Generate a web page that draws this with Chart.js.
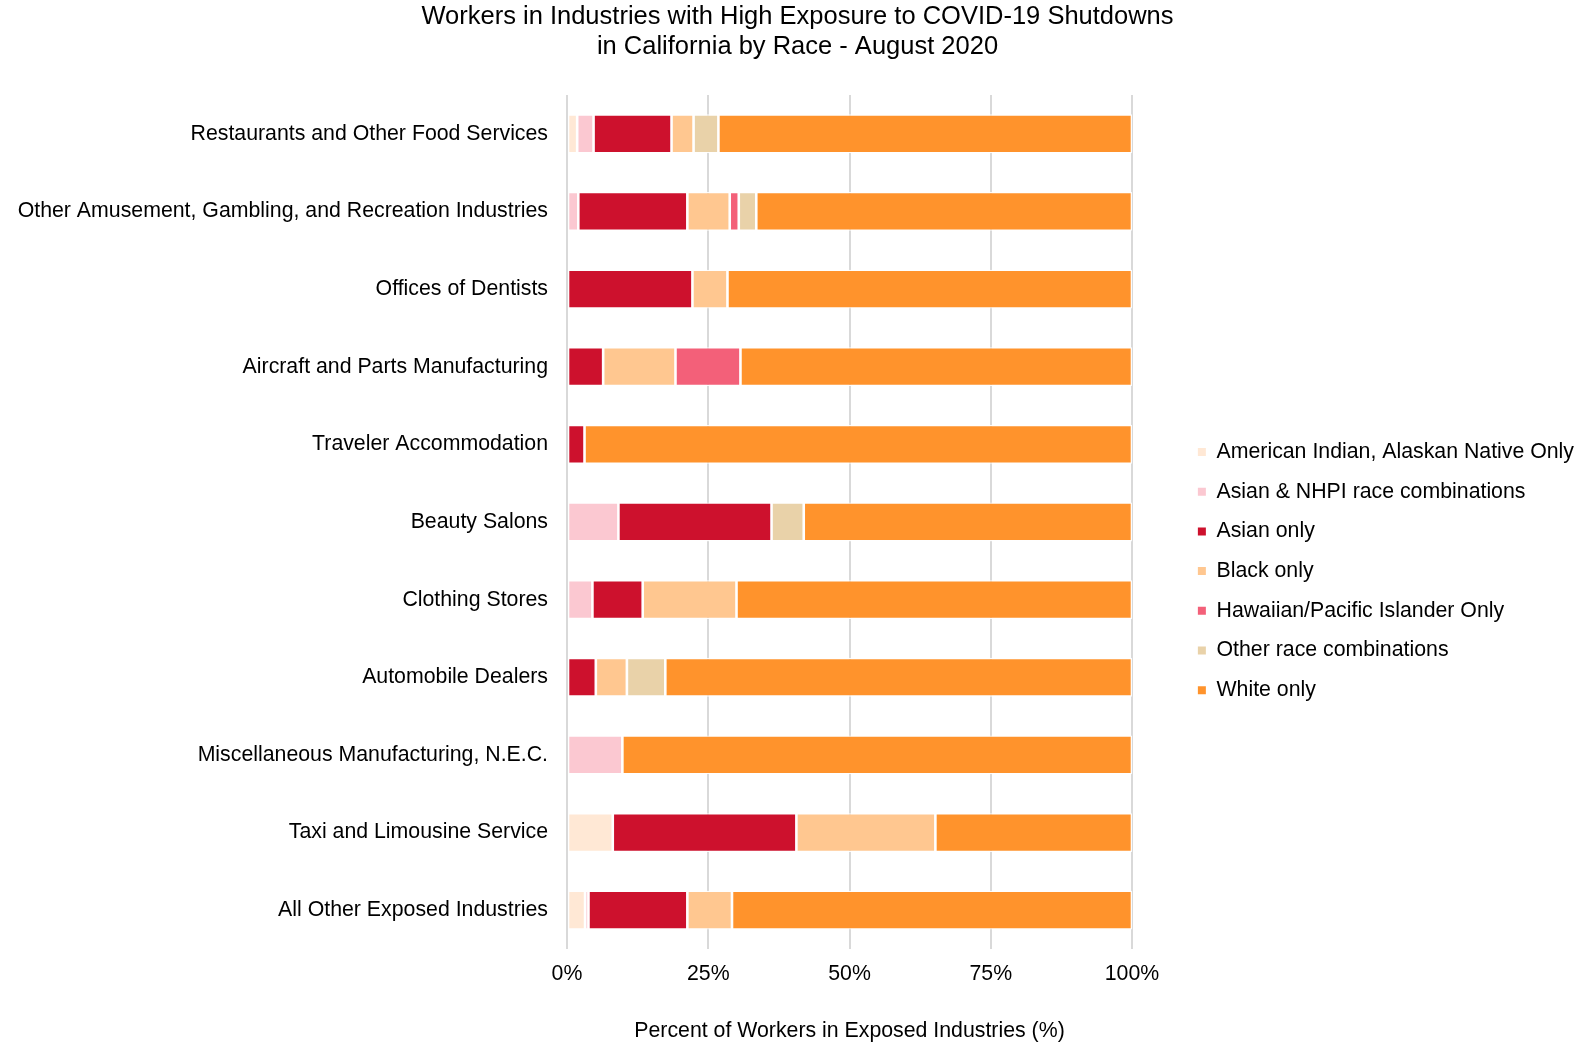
<!DOCTYPE html>
<html lang="en">
<head>
    <meta charset="UTF-8">
    <title>Workers in Industries with High Exposure to COVID-19 Shutdowns</title>
    <script src="https://cdn.jsdelivr.net/npm/chart.js"></script>
    <style>
        html, body {
            margin: 0;
            padding: 0;
            background: #ffffff;
        }

        .chart-container {
            position: relative;
            width: 1595px;
            height: 1044px;
        }
    </style>
</head>
<body>
<div class="chart-container"><canvas id="raceChart"></canvas></div>

<script>
    // Industries, top to bottom
    const industries = [
        'Restaurants and Other Food Services',
        'Other Amusement, Gambling, and Recreation Industries',
        'Offices of Dentists',
        'Aircraft and Parts Manufacturing',
        'Traveler Accommodation',
        'Beauty Salons',
        'Clothing Stores',
        'Automobile Dealers',
        'Miscellaneous Manufacturing, N.E.C.',
        'Taxi and Limousine Service',
        'All Other Exposed Industries'
    ];

    // Share of workers (%) per race group, same order as industries
    const aianOnly      = [1.8, 0,    0,    0,    0,    0,    0,    0,    0,    8.1,  3.2];
    const asianNhpiComb = [2.9, 2.0,  0,    0,    0,    9.1,  4.5,  0,    9.8,  0,    0.6];
    const asianOnly     = [13.8, 19.3, 22.2, 6.4, 3.1,  27.1, 8.9,  5.1,  0,    32.5, 17.5];
    const blackOnly     = [3.9, 7.5,  6.2,  12.8, 0,    0,    16.6, 5.5,  0,    24.6, 7.9];
    const hpiOnly       = [0,   1.6,  0,    11.5, 0,    0,    0,    0,    0,    0,    0];
    const otherComb     = [4.4, 3.1,  0,    0,    0,    5.7,  0,    6.8,  0,    0,    0];
    const whiteOnly     = [73.2, 66.5, 71.6, 69.3, 96.9, 58.1, 70.0, 82.6, 90.2, 34.8, 70.8];

    const xTicks = [0, 25, 50, 75, 100];

    const FONT = "'Liberation Sans', Arial, sans-serif";
    const SIDE_PAD = 11;
    const TEXT_SIZE = 21.3;

    function series(label, data, color) {
        return {
            label: label,
            data: data,
            backgroundColor: color,
            borderColor: 'rgba(255,255,255,0.9)',
            borderWidth: 1.3,
            borderSkipped: false,
            barPercentage: 0.5,
            categoryPercentage: 1.0
        };
    }

    // keeps the chart area clear of the legend
    function spacerFit(scale) {
        const chart = scale.chart;
        scale.width = Math.max(0, chart.width - SIDE_PAD - chart.legend.width - 1132);
    }

    const ctx = document.getElementById('raceChart').getContext('2d');
    new Chart(ctx, {
        type: 'bar',
        data: {
            labels: industries,
            datasets: [
                series('American Indian, Alaskan Native Only', aianOnly, '#FFE8D5'),
                series('Asian & NHPI race combinations', asianNhpiComb, '#FBC8D1'),
                series('Asian only', asianOnly, '#CD112D'),
                series('Black only', blackOnly, '#FFC790'),
                series('Hawaiian/Pacific Islander Only', hpiOnly, '#F36079'),
                series('Other race combinations', otherComb, '#E9D2A9'),
                series('White only', whiteOnly, '#FF932C')
            ]
        },
        options: {
            indexAxis: 'y',
            responsive: true,
            maintainAspectRatio: false,
            animation: false,
            layout: {
                padding: {left: SIDE_PAD, right: SIDE_PAD, top: 0, bottom: 0}
            },
            scales: {
                x: {
                    stacked: true,
                    min: 0,
                    max: 100,
                    afterBuildTicks: scale => {
                        scale.ticks = xTicks.map(v => ({value: v}));
                    },
                    afterFit: scale => {
                        scale.height = 95;
                    },
                    grid: {
                        color: '#D9D9D9',
                        lineWidth: 2,
                        drawTicks: false
                    },
                    border: {display: false},
                    ticks: {
                        color: '#000',
                        padding: 12.4,
                        font: {family: FONT, size: TEXT_SIZE},
                        callback: v => v + '%'
                    },
                    title: {
                        display: true,
                        text: 'Percent of Workers in Exposed Industries (%)',
                        color: '#000',
                        font: {family: FONT, size: TEXT_SIZE},
                        padding: {top: 0, bottom: 0.4}
                    }
                },
                y: {
                    stacked: true,
                    afterFit: scale => {
                        scale.width = 567 - SIDE_PAD;
                    },
                    grid: {display: false, drawTicks: false},
                    border: {display: false},
                    ticks: {
                        color: '#000',
                        padding: 19,
                        font: {family: FONT, size: TEXT_SIZE}
                    }
                },
                ySpacer: {
                    type: 'category',
                    position: 'right',
                    afterFit: spacerFit,
                    grid: {display: false, drawTicks: false},
                    border: {display: false},
                    ticks: {display: false}
                }
            },
            plugins: {
                title: {
                    display: true,
                    text: ['Workers in Industries with High Exposure to COVID-19 Shutdowns',
                        'in California by Race - August 2020'],
                    color: '#000',
                    font: {family: FONT, size: 25.5, weight: 'normal', lineHeight: 1.16},
                    padding: {top: 2.5, bottom: 33.3}
                },
                legend: {
                    position: 'right',
                    align: 'center',
                    maxWidth: 440,
                    title: {
                        display: true,
                        text: ' ',
                        font: {size: 10},
                        padding: {top: 86.2, bottom: 0}
                    },
                    labels: {
                        color: '#000',
                        boxWidth: 8,
                        boxHeight: 8,
                        padding: 18.4,
                        font: {family: FONT, size: TEXT_SIZE},
                        generateLabels: chart => Chart.defaults.plugins.legend.labels
                            .generateLabels(chart)
                            .map(item => Object.assign(item, {lineWidth: 0}))
                    }
                },
                tooltip: {enabled: false}
            }
        }
    });
</script>
</body>
</html>
